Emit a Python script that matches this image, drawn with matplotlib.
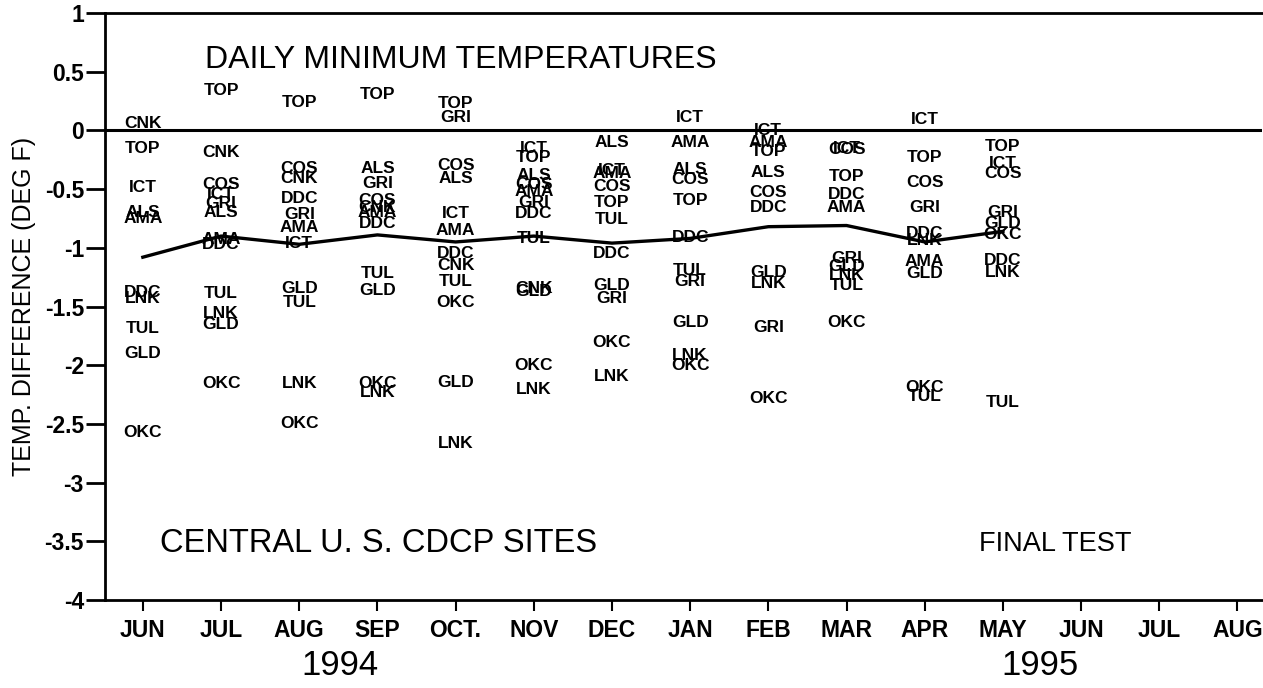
import numpy as np
import matplotlib
matplotlib.use('Agg')
import matplotlib.pyplot as plt

plt.rcParams['font.family'] = ['Liberation Sans', 'DejaVu Sans']

nan = np.nan

# monthly axis, Jun 1994 .. Aug 1995
months = ['JUN', 'JUL', 'AUG', 'SEP', 'OCT.', 'NOV', 'DEC', 'JAN', 'FEB', 'MAR', 'APR', 'MAY', 'JUN', 'JUL', 'AUG']

# site differences (deg F), Jun 1994 .. May 1995
ALS = [-0.70, -0.70, nan, -0.32, -0.41, -0.38, -0.10, -0.33, -0.36, nan, nan, nan]
AMA = [-0.75, -0.93, -0.83, -0.70, -0.85, -0.52, -0.37, -0.10, -0.10, -0.66, -1.12, nan]
CNK = [0.06, -0.19, -0.41, -0.66, -1.15, -1.35, nan, nan, nan, nan, nan, nan]
COS = [nan, -0.46, -0.32, -0.60, -0.30, -0.46, -0.48, -0.42, -0.53, -0.16, -0.44, -0.37]
DDC = [-1.38, -0.97, -0.58, -0.79, -1.05, -0.71, -1.05, -0.91, -0.66, -0.55, -0.88, -1.11]
GLD = [-1.90, -1.65, -1.35, -1.36, -2.15, -1.37, -1.32, -1.64, -1.21, -1.16, -1.22, -0.79]
GRI = [nan, -0.62, -0.72, -0.45, 0.11, -0.61, -1.43, -1.29, -1.68, -1.09, -0.66, -0.70]
ICT = [-0.49, -0.55, -0.96, nan, -0.71, -0.15, -0.34, 0.11, 0.00, -0.15, 0.09, -0.28]
LNK = [-1.43, -1.56, -2.16, -2.23, -2.67, -2.21, -2.10, -1.92, -1.30, -1.24, -0.94, -1.21]
OKC = [-2.57, -2.16, -2.50, -2.16, -1.47, -2.00, -1.81, -2.00, -2.28, -1.64, -2.19, -0.89]
TOP = [-0.15, 0.34, 0.24, 0.31, 0.23, -0.23, -0.61, -0.60, -0.18, -0.39, -0.23, -0.14]
TUL = [-1.69, -1.39, -1.47, -1.22, -1.29, -0.92, -0.76, -1.19, nan, -1.32, -2.27, -2.32]

# network average
mean_diff = [-1.08, -0.90, -0.97, -0.89, -0.95, -0.90, -0.96, -0.92, -0.82, -0.81, -0.95, -0.86]

sites = {'ALS': ALS, 'AMA': AMA, 'CNK': CNK, 'COS': COS, 'DDC': DDC, 'GLD': GLD,
         'GRI': GRI, 'ICT': ICT, 'LNK': LNK, 'OKC': OKC, 'TOP': TOP, 'TUL': TUL}

fig = plt.figure(figsize=(12.63, 6.88), dpi=100)
ax = fig.add_axes([0.083, 0.128, 0.916, 0.853])

lab_font = dict(family=['Liberation Sans Narrow', 'Liberation Sans', 'DejaVu Sans'],
                fontweight='bold', fontsize=12.5)

for name, vals in sites.items():
    for i, v in enumerate(vals):
        if np.isnan(v):
            continue
        ax.text(i, v, name, ha='center', va='center', **lab_font)

ax.plot(range(len(mean_diff)), mean_diff, color='black', lw=2.4)
ax.axhline(0, color='black', lw=2.2)

ax.set_xlim(-0.486, 14.31)
ax.set_ylim(-4, 1)
ax.set_yticks(np.arange(-4, 1.01, 0.5))
ax.set_yticklabels(['-4', '-3.5', '-3', '-2.5', '-2', '-1.5', '-1', '-0.5', '0', '0.5', '1'])
ax.set_xticks(range(len(months)))
ax.set_xticklabels(months)

tick_font = ['Liberation Sans Narrow', 'Liberation Sans', 'DejaVu Sans']
for t in ax.get_yticklabels():
    t.set_family(tick_font)
    t.set_fontweight('bold')
    t.set_fontsize(16.5)
for t in ax.get_xticklabels():
    t.set_family(tick_font)
    t.set_fontweight('bold')
    t.set_fontsize(16.5)

ax.tick_params(axis='y', direction='out', length=14, width=2, pad=1)
ax.tick_params(axis='x', direction='out', length=8, width=1.5, pad=6)

for side in ['left', 'bottom', 'top']:
    ax.spines[side].set_linewidth(2)
ax.spines['right'].set_visible(False)

ax.set_ylabel('TEMP. DIFFERENCE (DEG F)', fontsize=18, labelpad=6)

ax.text(0.8, 0.6, 'DAILY MINIMUM TEMPERATURES', fontsize=23, va='center', ha='left')
ax.text(0.22, -3.52, 'CENTRAL U. S. CDCP SITES', fontsize=23.5, va='center', ha='left')
ax.text(10.7, -3.52, 'FINAL TEST', fontsize=19.5, va='center', ha='left')

xt = ax.get_xaxis_transform()
ax.text(2.52, -0.112, '1994', transform=xt, fontsize=25, ha='center', va='center')
ax.text(11.47, -0.112, '1995', transform=xt, fontsize=25, ha='center', va='center')

fig.savefig('out.png', dpi=100)
